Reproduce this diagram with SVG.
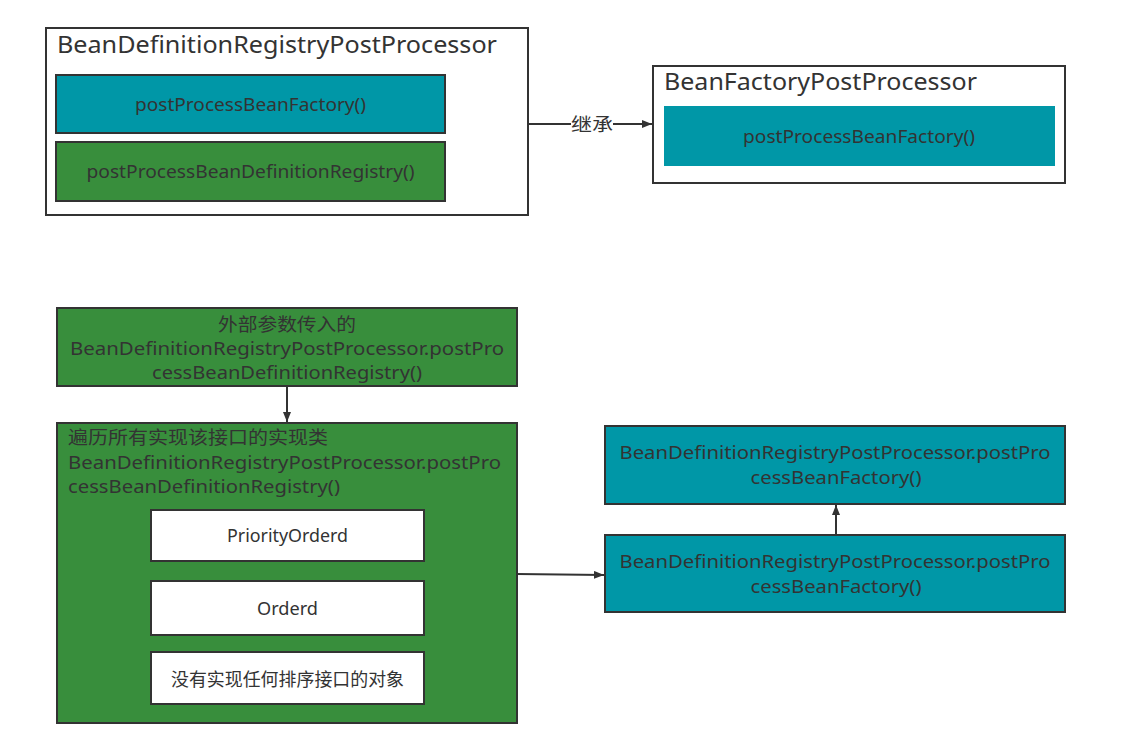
<svg xmlns="http://www.w3.org/2000/svg" width="1125" height="729" viewBox="0 0 1125 729">
<defs>
<marker id="arr" viewBox="0 0 10 8" refX="10" refY="4" markerWidth="10" markerHeight="8" markerUnits="userSpaceOnUse" orient="auto">
<path d="M0,0 L10,4 L0,8 Z" fill="#333"/>
</marker>
<style>
text{font-family:"Noto Sans","Open Sans","Noto Sans CJK SC",sans-serif;fill:#333;}
.t{font-size:18px;}
.h{font-size:24px;}
.mid{text-anchor:middle;}
.box{stroke:#333;stroke-width:2;}
.teal{fill:#0097a7;}
.green{fill:#388e3c;}
.white{fill:#fff;}
.ln{stroke:#333;stroke-width:2;fill:none;}
</style>
</defs>
<rect width="1125" height="729" fill="#fff"/>
<g id="bdrpp">
<rect class="box white" x="46" y="28" width="482" height="187"/>
<text class="h" x="57" y="53" textLength="440" lengthAdjust="spacingAndGlyphs">BeanDefinitionRegistryPostProcessor</text>
</g>
<g id="bdrpp-pbf">
<rect class="box teal" x="56" y="75" width="389" height="58"/>
<text class="t mid" x="250.5" y="111" textLength="231" lengthAdjust="spacingAndGlyphs">postProcessBeanFactory()</text>
</g>
<g id="bdrpp-pbdr">
<rect class="box green" x="56" y="142" width="389" height="59"/>
<text class="t mid" x="250.5" y="178" textLength="328" lengthAdjust="spacingAndGlyphs">postProcessBeanDefinitionRegistry()</text>
</g>
<g id="bfpp">
<rect class="box white" x="653" y="66" width="412" height="117"/>
<text class="h" x="664" y="90" textLength="313" lengthAdjust="spacingAndGlyphs">BeanFactoryPostProcessor</text>
</g>
<g id="bfpp-pbf">
<rect class="teal" x="664" y="106" width="391" height="60"/>
<text class="t mid" x="859" y="143" textLength="232" lengthAdjust="spacingAndGlyphs">postProcessBeanFactory()</text>
</g>
<g id="external">
<rect class="box green" x="57" y="308" width="460" height="78"/>
<text class="t mid" x="287" y="331" textLength="138" lengthAdjust="spacingAndGlyphs">外部参数传入的</text>
<text class="t mid" x="287" y="355" textLength="434" lengthAdjust="spacingAndGlyphs">BeanDefinitionRegistryPostProcessor.postPro</text>
<text class="t mid" x="287" y="379" textLength="270" lengthAdjust="spacingAndGlyphs">cessBeanDefinitionRegistry()</text>
</g>
<g id="iterate">
<rect class="box green" x="57" y="423" width="460" height="300"/>
<text class="t" x="68" y="444" textLength="260" lengthAdjust="spacingAndGlyphs">遍历所有实现该接口的实现类</text>
<text class="t" x="68" y="469" textLength="433" lengthAdjust="spacingAndGlyphs">BeanDefinitionRegistryPostProcessor.postPro</text>
<text class="t" x="68" y="493" textLength="272" lengthAdjust="spacingAndGlyphs">cessBeanDefinitionRegistry()</text>
</g>
<g id="priority">
<rect class="box white" x="151" y="510" width="273" height="51"/>
<text class="t mid" x="287.5" y="542" textLength="121" lengthAdjust="spacingAndGlyphs">PriorityOrderd</text>
</g>
<g id="ordered">
<rect class="box white" x="151" y="581" width="273" height="54"/>
<text class="t mid" x="287.5" y="615" textLength="61" lengthAdjust="spacingAndGlyphs">Orderd</text>
</g>
<g id="none">
<rect class="box white" x="151" y="652" width="273" height="52"/>
<text class="t mid" x="287.5" y="686" textLength="233" lengthAdjust="spacingAndGlyphs">没有实现任何排序接口的对象</text>
</g>
<g id="pbf-top">
<rect class="box teal" x="605" y="426" width="460" height="78"/>
<text class="t mid" x="835" y="459" textLength="431" lengthAdjust="spacingAndGlyphs">BeanDefinitionRegistryPostProcessor.postPro</text>
<text class="t mid" x="836" y="484" textLength="171" lengthAdjust="spacingAndGlyphs">cessBeanFactory()</text>
</g>
<g id="pbf-bottom">
<rect class="box teal" x="605" y="535" width="460" height="77"/>
<text class="t mid" x="835" y="568" textLength="431" lengthAdjust="spacingAndGlyphs">BeanDefinitionRegistryPostProcessor.postPro</text>
<text class="t mid" x="836" y="593" textLength="171" lengthAdjust="spacingAndGlyphs">cessBeanFactory()</text>
</g>
<g id="connectors">
<line class="ln" x1="528" y1="124" x2="652" y2="124" marker-end="url(#arr)"/>
<rect x="571" y="113" width="42" height="22" fill="#fff"/>
<text class="t" x="571" y="131" textLength="42" lengthAdjust="spacingAndGlyphs">继承</text>
<line class="ln" x1="287" y1="386" x2="287" y2="422" marker-end="url(#arr)"/>
<line class="ln" x1="517" y1="574" x2="604" y2="575" marker-end="url(#arr)"/>
<line class="ln" x1="836" y1="535" x2="836" y2="505" marker-end="url(#arr)"/>
</g>
</svg>
